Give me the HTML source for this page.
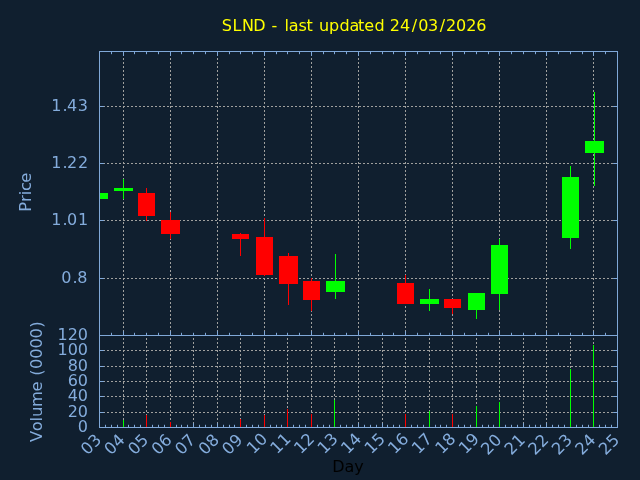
<!DOCTYPE html>
<html lang="en"><head><meta charset="utf-8"><title>SLND - last updated 24/03/2026</title>
<style>
html,body{margin:0;padding:0;background:#101f2f;}
body{width:640px;height:480px;overflow:hidden;}
svg{display:block;font-family:"DejaVu Sans","Liberation Sans",sans-serif;font-size:16px;}
.tk{fill:#84acdc;}
</style></head><body>
<svg width="640" height="480" viewBox="0 0 640 480">
<rect x="0" y="0" width="640" height="480" fill="#101f2f"/>
<defs><clipPath id="cp"><rect x="100" y="52" width="517" height="375"/></clipPath></defs>
<g clip-path="url(#cp)" stroke="#a0a09e" stroke-width="1" stroke-dasharray="2 2" fill="none">
<line x1="99" y1="106.5" x2="617" y2="106.5"/>
<line x1="99" y1="163.5" x2="617" y2="163.5"/>
<line x1="99" y1="220.5" x2="617" y2="220.5"/>
<line x1="99" y1="278.5" x2="617" y2="278.5"/>
<line x1="99" y1="350.5" x2="617" y2="350.5"/>
<line x1="99" y1="366.5" x2="617" y2="366.5"/>
<line x1="99" y1="381.5" x2="617" y2="381.5"/>
<line x1="99" y1="396.5" x2="617" y2="396.5"/>
<line x1="99" y1="412.5" x2="617" y2="412.5"/>
<line x1="123.5" y1="50" x2="123.5" y2="335"/>
<line x1="170.5" y1="50" x2="170.5" y2="335"/>
<line x1="217.5" y1="50" x2="217.5" y2="335"/>
<line x1="264.5" y1="50" x2="264.5" y2="335"/>
<line x1="311.5" y1="50" x2="311.5" y2="335"/>
<line x1="358.5" y1="50" x2="358.5" y2="335"/>
<line x1="405.5" y1="50" x2="405.5" y2="335"/>
<line x1="452.5" y1="50" x2="452.5" y2="335"/>
<line x1="499.5" y1="50" x2="499.5" y2="335"/>
<line x1="546.5" y1="50" x2="546.5" y2="335"/>
<line x1="593.5" y1="50" x2="593.5" y2="335"/>
<line x1="123.5" y1="334" x2="123.5" y2="427"/>
<line x1="146.5" y1="334" x2="146.5" y2="427"/>
<line x1="170.5" y1="334" x2="170.5" y2="427"/>
<line x1="193.5" y1="334" x2="193.5" y2="427"/>
<line x1="217.5" y1="334" x2="217.5" y2="427"/>
<line x1="240.5" y1="334" x2="240.5" y2="427"/>
<line x1="264.5" y1="334" x2="264.5" y2="427"/>
<line x1="287.5" y1="334" x2="287.5" y2="427"/>
<line x1="311.5" y1="334" x2="311.5" y2="427"/>
<line x1="334.5" y1="334" x2="334.5" y2="427"/>
<line x1="358.5" y1="334" x2="358.5" y2="427"/>
<line x1="382.5" y1="334" x2="382.5" y2="427"/>
<line x1="405.5" y1="334" x2="405.5" y2="427"/>
<line x1="429.5" y1="334" x2="429.5" y2="427"/>
<line x1="452.5" y1="334" x2="452.5" y2="427"/>
<line x1="476.5" y1="334" x2="476.5" y2="427"/>
<line x1="499.5" y1="334" x2="499.5" y2="427"/>
<line x1="523.5" y1="334" x2="523.5" y2="427"/>
<line x1="546.5" y1="334" x2="546.5" y2="427"/>
<line x1="570.5" y1="334" x2="570.5" y2="427"/>
<line x1="593.5" y1="334" x2="593.5" y2="427"/>
</g>
<g stroke="#80a8d8" stroke-width="1" fill="none">
<path d="M111.5 52V54.2"/>
<path d="M111.5 335V332.8"/>
<path d="M123.5 52V55.9"/>
<path d="M123.5 335V331.1"/>
<path d="M134.5 52V54.2"/>
<path d="M134.5 335V332.8"/>
<path d="M146.5 52V54.2"/>
<path d="M146.5 335V332.8"/>
<path d="M158.5 52V54.2"/>
<path d="M158.5 335V332.8"/>
<path d="M170.5 52V55.9"/>
<path d="M170.5 335V331.1"/>
<path d="M181.5 52V54.2"/>
<path d="M181.5 335V332.8"/>
<path d="M193.5 52V54.2"/>
<path d="M193.5 335V332.8"/>
<path d="M205.5 52V54.2"/>
<path d="M205.5 335V332.8"/>
<path d="M217.5 52V55.9"/>
<path d="M217.5 335V331.1"/>
<path d="M229.5 52V54.2"/>
<path d="M229.5 335V332.8"/>
<path d="M240.5 52V54.2"/>
<path d="M240.5 335V332.8"/>
<path d="M252.5 52V54.2"/>
<path d="M252.5 335V332.8"/>
<path d="M264.5 52V55.9"/>
<path d="M264.5 335V331.1"/>
<path d="M276.5 52V54.2"/>
<path d="M276.5 335V332.8"/>
<path d="M287.5 52V54.2"/>
<path d="M287.5 335V332.8"/>
<path d="M299.5 52V54.2"/>
<path d="M299.5 335V332.8"/>
<path d="M311.5 52V55.9"/>
<path d="M311.5 335V331.1"/>
<path d="M323.5 52V54.2"/>
<path d="M323.5 335V332.8"/>
<path d="M334.5 52V54.2"/>
<path d="M334.5 335V332.8"/>
<path d="M346.5 52V54.2"/>
<path d="M346.5 335V332.8"/>
<path d="M358.5 52V55.9"/>
<path d="M358.5 335V331.1"/>
<path d="M370.5 52V54.2"/>
<path d="M370.5 335V332.8"/>
<path d="M382.5 52V54.2"/>
<path d="M382.5 335V332.8"/>
<path d="M393.5 52V54.2"/>
<path d="M393.5 335V332.8"/>
<path d="M405.5 52V55.9"/>
<path d="M405.5 335V331.1"/>
<path d="M417.5 52V54.2"/>
<path d="M417.5 335V332.8"/>
<path d="M429.5 52V54.2"/>
<path d="M429.5 335V332.8"/>
<path d="M440.5 52V54.2"/>
<path d="M440.5 335V332.8"/>
<path d="M452.5 52V55.9"/>
<path d="M452.5 335V331.1"/>
<path d="M464.5 52V54.2"/>
<path d="M464.5 335V332.8"/>
<path d="M476.5 52V54.2"/>
<path d="M476.5 335V332.8"/>
<path d="M488.5 52V54.2"/>
<path d="M488.5 335V332.8"/>
<path d="M499.5 52V55.9"/>
<path d="M499.5 335V331.1"/>
<path d="M511.5 52V54.2"/>
<path d="M511.5 335V332.8"/>
<path d="M523.5 52V54.2"/>
<path d="M523.5 335V332.8"/>
<path d="M535.5 52V54.2"/>
<path d="M535.5 335V332.8"/>
<path d="M546.5 52V55.9"/>
<path d="M546.5 335V331.1"/>
<path d="M558.5 52V54.2"/>
<path d="M558.5 335V332.8"/>
<path d="M570.5 52V54.2"/>
<path d="M570.5 335V332.8"/>
<path d="M582.5 52V54.2"/>
<path d="M582.5 335V332.8"/>
<path d="M593.5 52V55.9"/>
<path d="M593.5 335V331.1"/>
<path d="M605.5 52V54.2"/>
<path d="M605.5 335V332.8"/>
<path d="M105.5 427V424.8"/>
<path d="M111.5 427V424.8"/>
<path d="M117.5 427V424.8"/>
<path d="M123.5 427V423.1"/>
<path d="M128.5 427V424.8"/>
<path d="M134.5 427V424.8"/>
<path d="M140.5 427V424.8"/>
<path d="M146.5 427V423.1"/>
<path d="M152.5 427V424.8"/>
<path d="M158.5 427V424.8"/>
<path d="M164.5 427V424.8"/>
<path d="M170.5 427V423.1"/>
<path d="M176.5 427V424.8"/>
<path d="M181.5 427V424.8"/>
<path d="M187.5 427V424.8"/>
<path d="M193.5 427V423.1"/>
<path d="M199.5 427V424.8"/>
<path d="M205.5 427V424.8"/>
<path d="M211.5 427V424.8"/>
<path d="M217.5 427V423.1"/>
<path d="M223.5 427V424.8"/>
<path d="M229.5 427V424.8"/>
<path d="M234.5 427V424.8"/>
<path d="M240.5 427V423.1"/>
<path d="M246.5 427V424.8"/>
<path d="M252.5 427V424.8"/>
<path d="M258.5 427V424.8"/>
<path d="M264.5 427V423.1"/>
<path d="M270.5 427V424.8"/>
<path d="M276.5 427V424.8"/>
<path d="M281.5 427V424.8"/>
<path d="M287.5 427V423.1"/>
<path d="M293.5 427V424.8"/>
<path d="M299.5 427V424.8"/>
<path d="M305.5 427V424.8"/>
<path d="M311.5 427V423.1"/>
<path d="M317.5 427V424.8"/>
<path d="M323.5 427V424.8"/>
<path d="M329.5 427V424.8"/>
<path d="M334.5 427V423.1"/>
<path d="M340.5 427V424.8"/>
<path d="M346.5 427V424.8"/>
<path d="M352.5 427V424.8"/>
<path d="M358.5 427V423.1"/>
<path d="M364.5 427V424.8"/>
<path d="M370.5 427V424.8"/>
<path d="M376.5 427V424.8"/>
<path d="M382.5 427V423.1"/>
<path d="M387.5 427V424.8"/>
<path d="M393.5 427V424.8"/>
<path d="M399.5 427V424.8"/>
<path d="M405.5 427V423.1"/>
<path d="M411.5 427V424.8"/>
<path d="M417.5 427V424.8"/>
<path d="M423.5 427V424.8"/>
<path d="M429.5 427V423.1"/>
<path d="M435.5 427V424.8"/>
<path d="M440.5 427V424.8"/>
<path d="M446.5 427V424.8"/>
<path d="M452.5 427V423.1"/>
<path d="M458.5 427V424.8"/>
<path d="M464.5 427V424.8"/>
<path d="M470.5 427V424.8"/>
<path d="M476.5 427V423.1"/>
<path d="M482.5 427V424.8"/>
<path d="M488.5 427V424.8"/>
<path d="M493.5 427V424.8"/>
<path d="M499.5 427V423.1"/>
<path d="M505.5 427V424.8"/>
<path d="M511.5 427V424.8"/>
<path d="M517.5 427V424.8"/>
<path d="M523.5 427V423.1"/>
<path d="M529.5 427V424.8"/>
<path d="M535.5 427V424.8"/>
<path d="M540.5 427V424.8"/>
<path d="M546.5 427V423.1"/>
<path d="M552.5 427V424.8"/>
<path d="M558.5 427V424.8"/>
<path d="M564.5 427V424.8"/>
<path d="M570.5 427V423.1"/>
<path d="M576.5 427V424.8"/>
<path d="M582.5 427V424.8"/>
<path d="M588.5 427V424.8"/>
<path d="M593.5 427V423.1"/>
<path d="M599.5 427V424.8"/>
<path d="M605.5 427V424.8"/>
<path d="M611.5 427V424.8"/>
<path d="M100 106.5h3.9"/>
<path d="M617 106.5h-3.9"/>
<path d="M100 163.5h3.9"/>
<path d="M617 163.5h-3.9"/>
<path d="M100 220.5h3.9"/>
<path d="M617 220.5h-3.9"/>
<path d="M100 278.5h3.9"/>
<path d="M617 278.5h-3.9"/>
<path d="M100 350.5h3.9"/>
<path d="M617 350.5h-3.9"/>
<path d="M100 366.5h3.9"/>
<path d="M617 366.5h-3.9"/>
<path d="M100 381.5h3.9"/>
<path d="M617 381.5h-3.9"/>
<path d="M100 396.5h3.9"/>
<path d="M617 396.5h-3.9"/>
<path d="M100 412.5h3.9"/>
<path d="M617 412.5h-3.9"/>
</g>
<g>
<rect x="100" y="193" width="8" height="6" fill="#00ff00"/>
<rect x="123" y="179" width="1" height="20" fill="#00ff00"/>
<rect x="114" y="188" width="19" height="3" fill="#00ff00"/>
<rect x="146" y="188" width="1" height="33" fill="#ff0000"/>
<rect x="138" y="193" width="17" height="23" fill="#ff0000"/>
<rect x="170" y="212" width="1" height="27" fill="#ff0000"/>
<rect x="161" y="220" width="19" height="14" fill="#ff0000"/>
<rect x="240" y="233" width="1" height="23" fill="#ff0000"/>
<rect x="232" y="234" width="17" height="5" fill="#ff0000"/>
<rect x="264" y="218" width="1" height="58" fill="#ff0000"/>
<rect x="256" y="237" width="17" height="38" fill="#ff0000"/>
<rect x="288" y="253" width="1" height="52" fill="#ff0000"/>
<rect x="279" y="256" width="19" height="28" fill="#ff0000"/>
<rect x="311" y="278" width="1" height="33" fill="#ff0000"/>
<rect x="303" y="281" width="17" height="19" fill="#ff0000"/>
<rect x="335" y="254" width="1" height="45" fill="#00ff00"/>
<rect x="326" y="281" width="19" height="11" fill="#00ff00"/>
<rect x="405" y="275" width="1" height="29" fill="#ff0000"/>
<rect x="397" y="283" width="17" height="21" fill="#ff0000"/>
<rect x="429" y="289" width="1" height="22" fill="#00ff00"/>
<rect x="420" y="299" width="19" height="5" fill="#00ff00"/>
<rect x="452" y="299" width="1" height="15" fill="#ff0000"/>
<rect x="444" y="299" width="17" height="9" fill="#ff0000"/>
<rect x="476" y="293" width="1" height="26" fill="#00ff00"/>
<rect x="468" y="293" width="17" height="17" fill="#00ff00"/>
<rect x="499" y="239" width="1" height="71" fill="#00ff00"/>
<rect x="491" y="245" width="17" height="49" fill="#00ff00"/>
<rect x="570" y="166" width="1" height="83" fill="#00ff00"/>
<rect x="562" y="177" width="17" height="61" fill="#00ff00"/>
<rect x="594" y="92" width="1" height="94" fill="#00ff00"/>
<rect x="585" y="141" width="19" height="12" fill="#00ff00"/>
</g>
<g>
<rect x="123" y="420" width="1" height="7.5" fill="#00ff00"/>
<rect x="146" y="415" width="1" height="12.5" fill="#ff0000"/>
<rect x="170" y="422" width="1" height="5.5" fill="#ff0000"/>
<rect x="240" y="419" width="1" height="8.5" fill="#ff0000"/>
<rect x="264" y="415" width="1" height="12.5" fill="#ff0000"/>
<rect x="287" y="409" width="1" height="18.5" fill="#ff0000"/>
<rect x="311" y="414" width="1" height="13.5" fill="#ff0000"/>
<rect x="334" y="400" width="1" height="27.5" fill="#00ff00"/>
<rect x="405" y="414" width="1" height="13.5" fill="#ff0000"/>
<rect x="429" y="411" width="1" height="16.5" fill="#00ff00"/>
<rect x="452" y="414" width="1" height="13.5" fill="#ff0000"/>
<rect x="476" y="406" width="1" height="21.5" fill="#00ff00"/>
<rect x="499" y="402" width="1" height="25.5" fill="#00ff00"/>
<rect x="570" y="369" width="1" height="58.5" fill="#00ff00"/>
<rect x="593" y="345" width="1" height="82.5" fill="#00ff00"/>
</g>
<g stroke="#80a8d8" stroke-width="1" fill="none">
<rect x="99.5" y="51.5" width="518" height="284"/>
<rect x="99.5" y="335.5" width="518" height="92"/>
</g>
<text x="221.7 232.4 242.0 253.3 266 271.4 279 284.5 288.8 298.5 306.5 313 319.0 328.95 339.5 349.4 358.1 364.2 374.5 384 389.8 400.0 411.7 418.2 428.1 439.7 446.0 456.1 466.2 476.3" y="31" fill="#ffff00">SLND - last updated 24/03/2026</text>
<text class="tk" x="51.27 62.55 67.04 77.82" y="111.1">1.43</text>
<text class="tk" x="51.27 62.55 66.94 78.12" y="168.1">1.22</text>
<text class="tk" x="51.27 62.55 67.04 78.02" y="225.1">1.01</text>
<text class="tk" x="61.15 72.43 77.22" y="283.1">0.8</text>
<text class="tk" x="88" y="432.1" text-anchor="end">0</text>
<text class="tk" x="88" y="417.1" text-anchor="end">20</text>
<text class="tk" x="88" y="401.1" text-anchor="end">40</text>
<text class="tk" x="88" y="386.1" text-anchor="end">60</text>
<text class="tk" x="88" y="371.1" text-anchor="end">80</text>
<text class="tk" x="88" y="355.1" text-anchor="end">100</text>
<text class="tk" x="88" y="340.1" text-anchor="end">120</text>
<text class="tk" transform="translate(93.80 432.50) rotate(-45)" x="0" y="12" text-anchor="end" font-size="16.4">03</text>
<text class="tk" transform="translate(117.35 432.50) rotate(-45)" x="0" y="12" text-anchor="end" font-size="16.4">04</text>
<text class="tk" transform="translate(140.89 432.50) rotate(-45)" x="0" y="12" text-anchor="end" font-size="16.4">05</text>
<text class="tk" transform="translate(164.44 432.50) rotate(-45)" x="0" y="12" text-anchor="end" font-size="16.4">06</text>
<text class="tk" transform="translate(187.98 432.50) rotate(-45)" x="0" y="12" text-anchor="end" font-size="16.4">07</text>
<text class="tk" transform="translate(211.53 432.50) rotate(-45)" x="0" y="12" text-anchor="end" font-size="16.4">08</text>
<text class="tk" transform="translate(235.07 432.50) rotate(-45)" x="0" y="12" text-anchor="end" font-size="16.4">09</text>
<text class="tk" transform="translate(259.82 431.40) rotate(-45)" x="0" y="12" text-anchor="end" font-size="16.4">10</text>
<text class="tk" transform="translate(283.36 431.40) rotate(-45)" x="0" y="12" text-anchor="end" font-size="16.4">11</text>
<text class="tk" transform="translate(306.91 431.40) rotate(-45)" x="0" y="12" text-anchor="end" font-size="16.4">12</text>
<text class="tk" transform="translate(330.45 431.40) rotate(-45)" x="0" y="12" text-anchor="end" font-size="16.4">13</text>
<text class="tk" transform="translate(354.00 431.40) rotate(-45)" x="0" y="12" text-anchor="end" font-size="16.4">14</text>
<text class="tk" transform="translate(377.55 431.40) rotate(-45)" x="0" y="12" text-anchor="end" font-size="16.4">15</text>
<text class="tk" transform="translate(401.09 431.40) rotate(-45)" x="0" y="12" text-anchor="end" font-size="16.4">16</text>
<text class="tk" transform="translate(424.64 431.40) rotate(-45)" x="0" y="12" text-anchor="end" font-size="16.4">17</text>
<text class="tk" transform="translate(448.18 431.40) rotate(-45)" x="0" y="12" text-anchor="end" font-size="16.4">18</text>
<text class="tk" transform="translate(471.73 431.40) rotate(-45)" x="0" y="12" text-anchor="end" font-size="16.4">19</text>
<text class="tk" transform="translate(494.07 432.50) rotate(-45)" x="0" y="12" text-anchor="end" font-size="16.4">20</text>
<text class="tk" transform="translate(517.62 432.50) rotate(-45)" x="0" y="12" text-anchor="end" font-size="16.4">21</text>
<text class="tk" transform="translate(541.16 432.50) rotate(-45)" x="0" y="12" text-anchor="end" font-size="16.4">22</text>
<text class="tk" transform="translate(564.71 432.50) rotate(-45)" x="0" y="12" text-anchor="end" font-size="16.4">23</text>
<text class="tk" transform="translate(588.25 432.50) rotate(-45)" x="0" y="12" text-anchor="end" font-size="16.4">24</text>
<text class="tk" transform="translate(611.80 432.50) rotate(-45)" x="0" y="12" text-anchor="end" font-size="16.4">25</text>
<text class="tk" transform="translate(31 192.3) rotate(-90)" font-size="16.4" x="-19.37 -9.59 -2.92 1.27 9.68" y="0">Price</text>
<text class="tk" transform="translate(42.3 381.5) rotate(-90)" font-size="16.4" x="-60.57 -49.66 -39.94 -35.53 -25.41 -9.99 -0.02 5.85 12.6 22.77 32.95 43.13 53.82" y="0">Volume (0000)</text>
<text x="332.3 344.53 354.24" y="471.8" fill="#000000">Day</text>
</svg></body></html>
